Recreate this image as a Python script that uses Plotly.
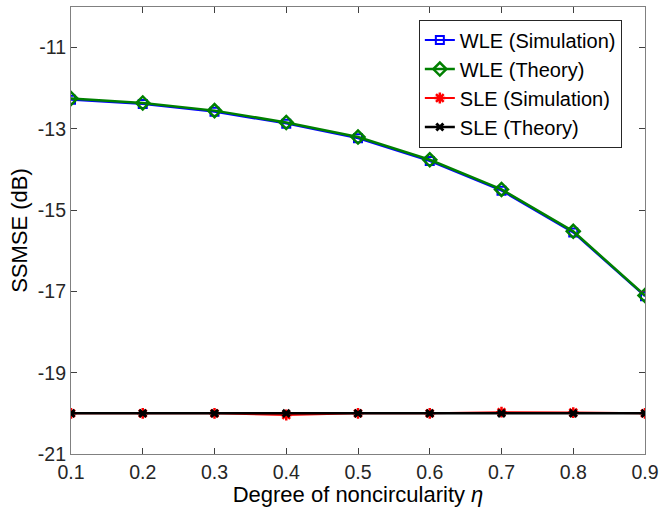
import plotly.graph_objects as go

eta = [0.1, 0.2, 0.3, 0.4, 0.5, 0.6, 0.7, 0.8, 0.9]
wle_sim = [-12.28, -12.39, -12.58, -12.87, -13.23, -13.79, -14.52, -15.55, -17.12]
wle_theory = [-12.25, -12.36, -12.55, -12.84, -13.20, -13.76, -14.49, -15.52, -17.10]
sle_sim = [-20.00, -20.00, -20.00, -20.04, -20.00, -20.00, -19.97, -19.98, -20.00]
sle_theory = [-20.0, -20.0, -20.0, -20.0, -20.0, -20.0, -20.0, -20.0, -20.0]
x_ticks = [0.1, 0.2, 0.3, 0.4, 0.5, 0.6, 0.7, 0.8, 0.9]
y_ticks = [-21, -19, -17, -15, -13, -11]

FONT = "Liberation Sans, Arial, Helvetica"

fig = go.Figure()
fig.add_trace(go.Scatter(x=eta, y=wle_sim, name="WLE (Simulation)", mode="lines+markers",
                         legendgroup="a",
                         line=dict(color="#0000FF", width=2),
                         marker=dict(symbol="square-open", size=8, color="#0000FF", line=dict(width=2))))
fig.add_trace(go.Scatter(x=eta, y=wle_theory, name="WLE (Theory)", mode="lines+markers",
                         legendgroup="b",
                         line=dict(color="#008000", width=2.5),
                         marker=dict(symbol="diamond-open", size=10, color="#008000", line=dict(width=2.5))))
fig.add_trace(go.Scatter(x=eta, y=sle_sim, name="SLE (Simulation)", mode="lines+markers",
                         legendgroup="c",
                         line=dict(color="#FF0000", width=2),
                         marker=dict(symbol="asterisk-open", size=9, color="#FF0000", line=dict(width=2.5))))
fig.add_trace(go.Scatter(x=eta, y=sle_theory, name="SLE (Theory)", mode="lines+markers",
                         legendgroup="d",
                         line=dict(color="#000000", width=2.5),
                         marker=dict(symbol="x-thin-open", size=7, color="#000000", line=dict(width=3))))

axis_common = dict(showgrid=False, zeroline=False, showline=True, mirror="ticks",
                   linecolor="#808080", linewidth=1.2, ticks="inside", ticklen=6,
                   tickcolor="#404040",
                   tickfont=dict(family=FONT, size=19.5, color="#262626"))

fig.update_layout(
    width=664, height=526,
    margin=dict(l=71, r=13.5, t=5.5, b=72),
    paper_bgcolor="white", plot_bgcolor="white",
    font=dict(family=FONT, color="#000000"),
    xaxis=dict(range=[0.1, 0.9], tickvals=x_ticks, ticktext=[f"{v:.1f}" for v in x_ticks],
               title=dict(text="Degree of noncircularity <i>η</i>", font=dict(size=22, color="#000000"), standoff=4),
               **axis_common),
    yaxis=dict(range=[-21, -10], tickvals=y_ticks, ticktext=[str(v) for v in y_ticks],
               title=dict(text="SSMSE (dB)", font=dict(size=22, color="#000000"), standoff=4),
               **axis_common),
    legend=dict(x=0.606, y=0.972, xanchor="left", yanchor="top",
                bgcolor="white", bordercolor="#262626", borderwidth=1,
                font=dict(family=FONT, size=20, color="#000000"),
                tracegroupgap=0, itemwidth=30),
    showlegend=True,
)

fig.write_html("out.html")
